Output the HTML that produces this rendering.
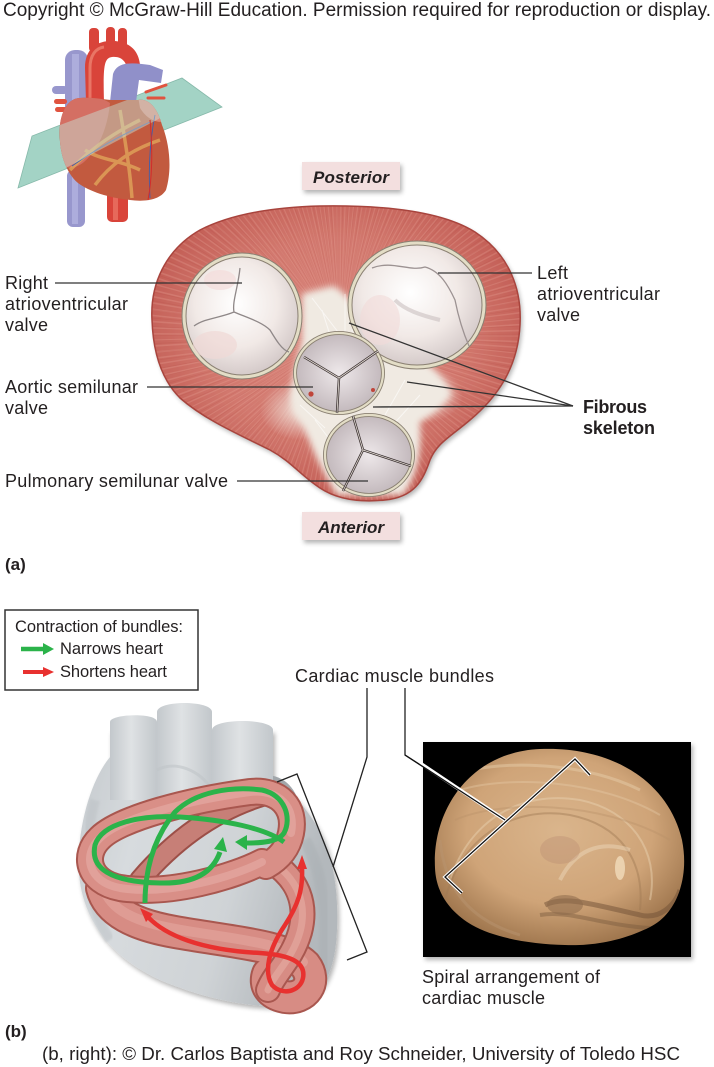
<!DOCTYPE html>
<html><head><meta charset="utf-8">
<style>
html,body{margin:0;padding:0;background:#fff;}
svg{display:block;}
text{font-family:"Liberation Sans",Arial,sans-serif;fill:#231f20;}
</style></head><body>
<svg width="714" height="1067" viewBox="0 0 714 1067" xmlns="http://www.w3.org/2000/svg">
<defs>
 <radialGradient id="muscle" cx="0.5" cy="0.45" r="0.62">
  <stop offset="0" stop-color="#dc8d83"/>
  <stop offset="0.55" stop-color="#d2786e"/>
  <stop offset="1" stop-color="#bd544c"/>
 </radialGradient>
 <radialGradient id="valve" cx="0.45" cy="0.4" r="0.65">
  <stop offset="0" stop-color="#ffffff"/>
  <stop offset="0.55" stop-color="#f1e9e6"/>
  <stop offset="1" stop-color="#cdc2c2"/>
 </radialGradient>
 <radialGradient id="cusp" cx="0.5" cy="0.5" r="0.62">
  <stop offset="0" stop-color="#eee8ea"/>
  <stop offset="1" stop-color="#b8adb1"/>
 </radialGradient>
 <radialGradient id="fib" cx="0.5" cy="0.5" r="0.5">
  <stop offset="0" stop-color="#f4eee6" stop-opacity="0.85"/>
  <stop offset="1" stop-color="#f4eee6" stop-opacity="0"/>
 </radialGradient>
 <linearGradient id="grayBody" x1="0" y1="0" x2="1" y2="0.3">
  <stop offset="0" stop-color="#c4c9cd"/>
  <stop offset="0.3" stop-color="#d7dbde"/>
  <stop offset="0.7" stop-color="#cfd3d6"/>
  <stop offset="1" stop-color="#b3b8bc"/>
 </linearGradient>
 <linearGradient id="tube" x1="0" y1="0" x2="1" y2="0">
  <stop offset="0" stop-color="#c3c8cc"/>
  <stop offset="0.45" stop-color="#dfe2e4"/>
  <stop offset="1" stop-color="#c2c7cb"/>
 </linearGradient>
 <radialGradient id="tan" cx="0.5" cy="0.42" r="0.62">
  <stop offset="0" stop-color="#dab58c"/>
  <stop offset="0.6" stop-color="#cfa478"/>
  <stop offset="1" stop-color="#9a7149"/>
 </radialGradient>
 <filter id="shadow" x="-20%" y="-30%" width="150%" height="170%">
  <feGaussianBlur in="SourceAlpha" stdDeviation="2.5"/>
  <feOffset dx="2" dy="3"/>
  <feComponentTransfer><feFuncA type="linear" slope="0.3"/></feComponentTransfer>
  <feMerge><feMergeNode/><feMergeNode in="SourceGraphic"/></feMerge>
 </filter>
 <filter id="blur2" x="-20%" y="-20%" width="140%" height="140%"><feGaussianBlur stdDeviation="3.5"/></filter>
 <filter id="blur1"><feGaussianBlur stdDeviation="1"/></filter>
 <clipPath id="blobClip">
  <path d="M152,320 C150,285 165,250 200,230 C235,212 280,207 320,206 C380,205 440,210 475,232 C510,255 522,290 520,325 C518,365 500,395 470,420 C450,437 437,443 430,460 C423,480 415,497 385,500 C355,503 335,498 320,488 C300,475 292,462 270,450 C240,435 205,420 180,398 C160,378 153,350 152,320 Z"/>
 </clipPath>
 <clipPath id="smallHeartClip">
  <path d="M60,125 C62,108 70,98 80,98 C95,97 105,100 112,100 L138,100 C150,98 158,110 162,125 C170,145 172,170 166,190 C160,200 145,202 130,200 C110,198 90,192 78,183 C65,172 58,150 60,125 Z"/>
 </clipPath>
 <clipPath id="tanClip">
  <path d="M435,868 C432,810 470,752 540,749 C610,746 668,780 682,840 C690,880 675,915 650,927 C620,942 590,946 565,945 C530,944 495,938 472,925 C450,912 436,893 435,868 Z"/>
 </clipPath>
</defs>

<!-- Copyright -->
<text x="3" y="16" font-size="19" textLength="708" lengthAdjust="spacingAndGlyphs">Copyright © McGraw-Hill Education. Permission required for reproduction or display.</text>

<!-- ===== Small heart ===== -->
<polygon points="18,188 32,136 182,78 222,107" fill="#a3d3c5" stroke="#86b9aa" stroke-width="0.8"/>
<rect x="65" y="50" width="23" height="120" rx="10" fill="#9897cd"/>
<rect x="72" y="54" width="7" height="110" fill="#b7b6e2" opacity="0.7"/>
<rect x="67" y="170" width="18" height="57" rx="6" fill="#9897cd"/>
<rect x="72" y="172" width="6" height="52" fill="#b7b6e2" opacity="0.7"/>
<rect x="52" y="86" width="16" height="8" rx="4" fill="#9897cd"/>
<rect x="54" y="99" width="13" height="5" rx="2.5" fill="#e0533f"/>
<rect x="55" y="107" width="12" height="5" rx="2.5" fill="#e0533f"/>
<rect x="89" y="28" width="10" height="24" rx="4" fill="#d9443a"/>
<rect x="106" y="27" width="9" height="20" rx="4" fill="#d9443a"/>
<rect x="118" y="28" width="9" height="20" rx="4" fill="#d9443a"/>
<path d="M86,102 L85,68 C85,47 99,40 115,41 C134,43 142,55 140,76 L128,76 C128,62 122,56 112,57 C104,58 103,66 104,102 Z" fill="#d9443a"/>
<path d="M90,100 L90,68 C90,55 96,48 104,47" stroke="#f08a78" stroke-width="3" fill="none" opacity="0.7"/>
<path d="M110,102 L113,74 C117,62 130,62 150,65 L163,70 L161,83 L139,80 L136,102 Z" fill="#9090c9"/>
<path d="M146,92 L166,85 M148,98 L164,98" stroke="#e0533f" stroke-width="3" stroke-linecap="round"/>
<rect x="107" y="188" width="21" height="34" rx="5" fill="#d9443a"/>
<rect x="113" y="190" width="5" height="30" fill="#ef8272" opacity="0.6"/>
<path d="M60,125 C62,108 70,98 80,98 C95,97 105,100 112,100 L138,100 C150,98 158,110 162,125 C170,145 172,170 166,190 C160,200 145,202 130,200 C110,198 90,192 78,183 C65,172 58,150 60,125 Z" fill="#c25a3f"/>
<g clip-path="url(#smallHeartClip)">
 <path d="M58,125 C60,108 70,97 82,97 C95,96 104,99 110,103 C108,125 100,148 84,162 C74,170 64,170 60,160 Z" fill="#d46f63"/>
 <path d="M138,96 C150,96 160,108 162,122 C152,122 145,116 140,108 Z" fill="#dc8878"/>
 <path d="M70,170 C90,150 110,135 140,120 M95,185 C110,165 130,150 160,140 M120,110 C125,140 130,170 132,198 M85,150 C100,160 120,160 140,170" stroke="#e2aa5c" stroke-width="3.5" fill="none" opacity="0.75"/>
 <path d="M155,115 C150,140 148,165 150,198 M72,166 C95,150 115,138 150,122" stroke="#3f5fae" stroke-width="0.9" fill="none"/>
 <polygon points="60,125 170,84 170,113 60,171" fill="#c7e6dc" opacity="0.45"/>
</g>
<path d="M150,120 C153,150 152,180 148,200" stroke="#d22c2c" stroke-width="1" fill="none"/>

<!-- ===== Section (a) ===== -->
<rect x="302" y="162" width="98" height="28" fill="#f3dfdf" filter="url(#shadow)"/>
<text x="351" y="183" font-size="17" font-weight="bold" font-style="italic" text-anchor="middle" textLength="76">Posterior</text>

<path d="M152,320 C150,285 165,250 200,230 C235,212 280,207 320,206 C380,205 440,210 475,232 C510,255 522,290 520,325 C518,365 500,395 470,420 C450,437 437,443 430,460 C423,480 415,497 385,500 C355,503 335,498 320,488 C300,475 292,462 270,450 C240,435 205,420 180,398 C160,378 153,350 152,320 Z" fill="url(#muscle)" filter="url(#shadow)"/>
<g clip-path="url(#blobClip)">
 <circle cx="340" cy="335" r="110" fill="none" stroke="#f2b4aa" stroke-width="220" stroke-dasharray="1 2.6" opacity="0.22"/>
 <circle cx="340" cy="335" r="110" fill="none" stroke="#a8413a" stroke-width="220" stroke-dasharray="0.7 4.3" opacity="0.14"/>
 <!-- fibrous skeleton -->
 <ellipse cx="300" cy="410" rx="40" ry="30" fill="url(#fib)"/>
 <ellipse cx="425" cy="395" rx="38" ry="28" fill="url(#fib)"/>
 <path d="M302,294 C315,290 325,288 333,286 C345,292 352,302 358,314 C368,327 385,338 400,346 C422,358 442,372 452,394 C442,408 430,416 420,422 C422,450 418,475 403,495 L337,495 C322,472 312,448 304,428 C294,415 288,402 290,392 C294,372 298,355 302,340 Z" fill="#f0eae2" filter="url(#blur2)"/>
 <path d="M312,298 L338,332 M345,294 L345,332 M322,310 L330,335 M356,306 L352,332 M300,405 L325,428 M405,380 L385,415 M420,395 L390,428 M315,420 L330,440" stroke="#ffffff" stroke-width="1" opacity="0.6"/>
</g>
<path d="M152,320 C150,285 165,250 200,230 C235,212 280,207 320,206 C380,205 440,210 475,232 C510,255 522,290 520,325 C518,365 500,395 470,420 C450,437 437,443 430,460 C423,480 415,497 385,500 C355,503 335,498 320,488 C300,475 292,462 270,450 C240,435 205,420 180,398 C160,378 153,350 152,320 Z" fill="none" stroke="#a8443d" stroke-width="1.5"/>

<!-- Right AV valve -->
<ellipse cx="242" cy="316" rx="58" ry="61" fill="url(#valve)" stroke="#8a8072" stroke-width="5"/>
<ellipse cx="242" cy="316" rx="58" ry="61" fill="none" stroke="#e3ddc6" stroke-width="3"/>
<ellipse cx="215" cy="345" rx="22" ry="14" fill="#f0d9d6" opacity="0.7"/>
<ellipse cx="220" cy="280" rx="16" ry="10" fill="#f3dcda" opacity="0.7"/>
<path d="M240,268 C238,288 232,302 234,312 C220,318 205,318 194,326 M234,312 C248,318 262,322 270,330 C276,340 282,350 289,352" stroke="#8f8888" stroke-width="1.3" fill="none"/>

<!-- Left AV valve -->
<ellipse cx="417" cy="305" rx="67" ry="62" fill="url(#valve)" stroke="#8a8072" stroke-width="5"/>
<ellipse cx="417" cy="305" rx="67" ry="62" fill="none" stroke="#e3ddc6" stroke-width="3"/>
<ellipse cx="380" cy="320" rx="20" ry="25" fill="#f1dbd8" opacity="0.6"/>
<path d="M372,268 C392,260 410,272 425,267 C440,271 448,285 455,300 C458,315 462,330 469,346" stroke="#9c9292" stroke-width="1.3" fill="none"/>
<path d="M395,300 C405,310 420,315 440,320" stroke="#c9c0c0" stroke-width="4" fill="none" opacity="0.6"/>

<!-- Aortic valve -->
<ellipse cx="339" cy="373" rx="44" ry="40" fill="url(#cusp)" stroke="#8a8072" stroke-width="4"/>
<ellipse cx="339" cy="373" rx="44" ry="40" fill="none" stroke="#e3ddc6" stroke-width="2.2"/>
<path d="M339,378 L304,357 M339,378 L378,351 M339,378 L337,413" stroke="#3d3333" stroke-width="2.4" fill="none"/>
<path d="M339,378 L304,357 M339,378 L378,351 M339,378 L337,413" stroke="#e6dfd8" stroke-width="0.8" fill="none"/>
<circle cx="311" cy="394" r="2.6" fill="#c0453a"/>
<circle cx="373" cy="390" r="2" fill="#c0453a"/>

<!-- Pulmonary valve -->
<ellipse cx="369" cy="455" rx="44" ry="40" fill="url(#cusp)" stroke="#8a8072" stroke-width="4"/>
<ellipse cx="369" cy="455" rx="44" ry="40" fill="none" stroke="#e3ddc6" stroke-width="2.2"/>
<path d="M353,416 L363,450 L411,466 M363,450 L343,491" stroke="#3d3333" stroke-width="2.4" fill="none"/>
<path d="M353,416 L363,450 L411,466 M363,450 L343,491" stroke="#e6dfd8" stroke-width="0.8" fill="none"/>

<!-- leader lines (a) -->
<g stroke="#333" stroke-width="1.3" fill="none">
 <line x1="55" y1="283" x2="242" y2="283"/>
 <line x1="147" y1="387" x2="313" y2="387"/>
 <line x1="237" y1="481" x2="368" y2="481"/>
 <line x1="438" y1="273" x2="532" y2="273"/>
 <line x1="349" y1="323" x2="573" y2="406"/>
 <line x1="407" y1="382" x2="573" y2="406"/>
 <line x1="373" y1="407" x2="573" y2="406"/>
</g>

<g font-size="18">
 <text x="5" y="289" textLength="43">Right</text>
 <text x="5" y="310" textLength="123">atrioventricular</text>
 <text x="5" y="331" textLength="43">valve</text>
 <text x="5" y="393" textLength="133">Aortic semilunar</text>
 <text x="5" y="414" textLength="43">valve</text>
 <text x="5" y="487" textLength="223">Pulmonary semilunar valve</text>
 <text x="537" y="279" textLength="31">Left</text>
 <text x="537" y="300" textLength="123">atrioventricular</text>
 <text x="537" y="321" textLength="43">valve</text>
 <text x="583" y="413" font-weight="bold" textLength="64">Fibrous</text>
 <text x="583" y="434" font-weight="bold" textLength="72">skeleton</text>
</g>

<rect x="302" y="512" width="98" height="28" fill="#f3dfdf" filter="url(#shadow)"/>
<text x="351" y="533" font-size="17" font-weight="bold" font-style="italic" text-anchor="middle">Anterior</text>

<text x="5" y="570" font-size="17" font-weight="bold">(a)</text>

<!-- ===== Section (b) ===== -->
<rect x="5" y="610" width="193" height="80" fill="#fff" stroke="#333" stroke-width="1.5"/>
<text x="15" y="632" font-size="16.5" textLength="168">Contraction of bundles:</text>
<line x1="21" y1="649" x2="45" y2="649" stroke="#2bb34a" stroke-width="4.5"/>
<polygon points="43,643 54,649 43,655" fill="#2bb34a"/>
<text x="60" y="654" font-size="16.5" textLength="103">Narrows heart</text>
<line x1="23" y1="672" x2="45" y2="672" stroke="#e8312f" stroke-width="4"/>
<polygon points="43,667 54,672 43,677" fill="#e8312f"/>
<text x="60" y="677" font-size="16.5" textLength="107">Shortens heart</text>

<!-- gray heart -->
<path d="M110,757 C95,775 82,810 79,850 C75,900 95,950 160,980 C205,999 250,1008 285,1006 C318,1003 335,980 337,930 C339,880 330,845 313,820 C300,800 288,788 273,780 L273,730 L110,730 Z" fill="url(#grayBody)" filter="url(#shadow)"/>
<path d="M265,775 C285,775 298,790 300,810 C300,818 292,822 285,815 C280,800 272,790 262,785 Z" fill="#a2a7ab"/>
<path d="M305,840 C322,870 330,920 322,975" stroke="#aab0b4" stroke-width="12" fill="none" opacity="0.5" filter="url(#blur1)"/>
<path d="M95,800 C84,840 84,900 110,940" stroke="#bcc1c5" stroke-width="10" fill="none" opacity="0.5" filter="url(#blur1)"/>
<path d="M110,800 L110,722 C110,714 157,712 157,722 L157,800 Z" fill="url(#tube)"/>
<path d="M212,800 L212,730 C212,718 273,718 273,730 L273,790 Z" fill="url(#tube)"/>
<path d="M157,810 L157,712 C157,700 212,700 212,712 L212,810 Z" fill="url(#tube)"/>
<path d="M212,790 C200,770 175,760 157,770" stroke="#bfc4c8" stroke-width="3" fill="none" opacity="0.6"/>

<!-- muscle bands -->
<g fill="none" stroke-linecap="round">
 <path d="M102,888 C108,912 135,925 175,932 C230,942 285,945 305,965 C318,982 305,1000 285,997 C270,994 264,985 268,974" stroke="#a9574f" stroke-width="34"/>
 <path d="M102,888 C108,912 135,925 175,932 C230,942 285,945 305,965 C318,982 305,1000 285,997 C270,994 264,985 268,974" stroke="#d78c84" stroke-width="30"/>
 <path d="M104,888 C110,910 136,922 176,929 C231,939 285,942 303,962" stroke="#e6aaa2" stroke-width="10" opacity="0.55"/>
 <path d="M272,862 C296,878 308,902 300,932 C292,960 275,972 268,990" stroke="#a9574f" stroke-width="26"/>
 <path d="M272,862 C296,878 308,902 300,932 C292,960 275,972 268,990" stroke="#d78c84" stroke-width="22"/>
 <path d="M272,862 C296,878 308,902 300,932 C292,960 275,972 268,990" stroke="#e8b0a8" stroke-width="7" opacity="0.55"/>
 <path d="M140,880 C170,845 210,812 262,796" stroke="#9c4f48" stroke-width="22"/>
 <path d="M140,880 C170,845 210,812 262,796" stroke="#c77f77" stroke-width="18"/>
 <path d="M262,862 C235,876 170,896 120,888 C88,882 82,855 100,838 C120,818 190,800 250,792 C280,789 296,808 291,833 C288,848 280,858 266,866" stroke="#a9574f" stroke-width="28"/>
 <path d="M262,862 C235,876 170,896 120,888 C88,882 82,855 100,838 C120,818 190,800 250,792 C280,789 296,808 291,833 C288,848 280,858 266,866" stroke="#d98f87" stroke-width="24"/>
 <path d="M262,862 C235,876 170,896 120,888 C88,882 82,855 100,838 C120,818 190,800 250,792 C280,789 296,808 291,833" stroke="#eab4ad" stroke-width="8" opacity="0.5"/>
</g>

<!-- green arrows -->
<g fill="none" stroke="#2bb34a" stroke-width="5" stroke-linecap="butt">
 <path d="M284,842 C265,828 225,820 180,817 C140,815 102,823 95,845 C90,868 110,882 160,883 C195,884 213,872 220,852"/>
 <path d="M145,903 C145,872 152,840 175,812 C195,792 230,786 262,790 C285,795 292,818 284,833 C278,842 262,843 246,843"/>
</g>
<polygon points="223,837 227,852 214,849" fill="#2bb34a"/>
<polygon points="235,842 247,835 247,850" fill="#2bb34a"/>

<!-- red arrow -->
<path d="M148,917 C165,935 200,950 260,953 C290,955 306,962 303,978 C300,992 282,996 272,985 C264,972 268,950 285,925 C298,905 303,890 302,868" fill="none" stroke="#e8312f" stroke-width="4.5"/>
<polygon points="140,908 153,914 146,922" fill="#e8312f"/>
<polygon points="302,855 297,869 307,869" fill="#e8312f"/>

<!-- leader lines (b) -->
<g stroke="#222" stroke-width="1.3" fill="none">
 <polyline points="367,688 367,757 333,867"/>
 <polyline points="277,782 297,774 367,952 347,960"/>
</g>
<text x="295" y="682" font-size="18" textLength="199">Cardiac muscle bundles</text>

<!-- photo -->
<rect x="423" y="742" width="268" height="215" fill="#050505" filter="url(#shadow)"/>
<path d="M435,868 C432,810 470,752 540,749 C610,746 668,780 682,840 C690,880 675,915 650,927 C620,942 590,946 565,945 C530,944 495,938 472,925 C450,912 436,893 435,868 Z" fill="url(#tan)"/>
<g clip-path="url(#tanClip)" fill="none">
 <path d="M450,880 C470,820 520,790 580,800 C630,810 660,850 650,900" stroke="#e8cfae" stroke-width="2" opacity="0.5"/>
 <path d="M445,900 C460,840 510,805 570,815 C620,825 645,860 640,910" stroke="#a07a54" stroke-width="2" opacity="0.45"/>
 <path d="M470,770 C520,760 590,765 640,790" stroke="#e6cba8" stroke-width="3" opacity="0.5"/>
 <path d="M460,790 C510,775 600,780 660,815" stroke="#e6cba8" stroke-width="2" opacity="0.4"/>
 <path d="M455,820 C500,800 600,800 670,840" stroke="#b89068" stroke-width="2" opacity="0.4"/>
 <path d="M560,880 C575,850 600,840 630,850" stroke="#ecd6b8" stroke-width="4" opacity="0.5"/>
 <path d="M545,905 C565,895 595,905 640,915 C660,920 675,905 680,890" stroke="#6f5036" stroke-width="5" opacity="0.5"/>
 <path d="M540,915 C570,910 600,925 650,928" stroke="#7a5a3e" stroke-width="4" opacity="0.45"/>
 <ellipse cx="565" cy="905" rx="18" ry="10" fill="#8c6a4a" opacity="0.55"/>
 <ellipse cx="620" cy="868" rx="5" ry="12" fill="#f1dcbc" opacity="0.8"/>
 <ellipse cx="560" cy="850" rx="20" ry="14" fill="#b88a70" opacity="0.35"/>
 <path d="M440,840 C445,890 470,920 520,935" stroke="#b89470" stroke-width="3" opacity="0.5"/>
</g>
<g fill="none" stroke-linejoin="miter">
 <polyline points="405,688 405,755 505,820" stroke="#222" stroke-width="1.3"/>
 <polyline points="462,893 445,877 575,759 590,775" stroke="#fff" stroke-width="3.5"/>
 <line x1="420" y1="763" x2="505" y2="820" stroke="#fff" stroke-width="3.5"/>
 <polyline points="462,893 445,877 575,759 590,775" stroke="#111" stroke-width="1.3"/>
 <line x1="405" y1="755" x2="505" y2="820" stroke="#111" stroke-width="1.3"/>
</g>

<text x="422" y="983" font-size="18" textLength="178">Spiral arrangement of</text>
<text x="422" y="1004" font-size="18" textLength="123">cardiac muscle</text>

<text x="5" y="1037" font-size="17" font-weight="bold">(b)</text>
<text x="42" y="1060" font-size="18" textLength="638" lengthAdjust="spacingAndGlyphs">(b, right): © Dr. Carlos Baptista and Roy Schneider, University of Toledo HSC</text>
</svg>
</body></html>
